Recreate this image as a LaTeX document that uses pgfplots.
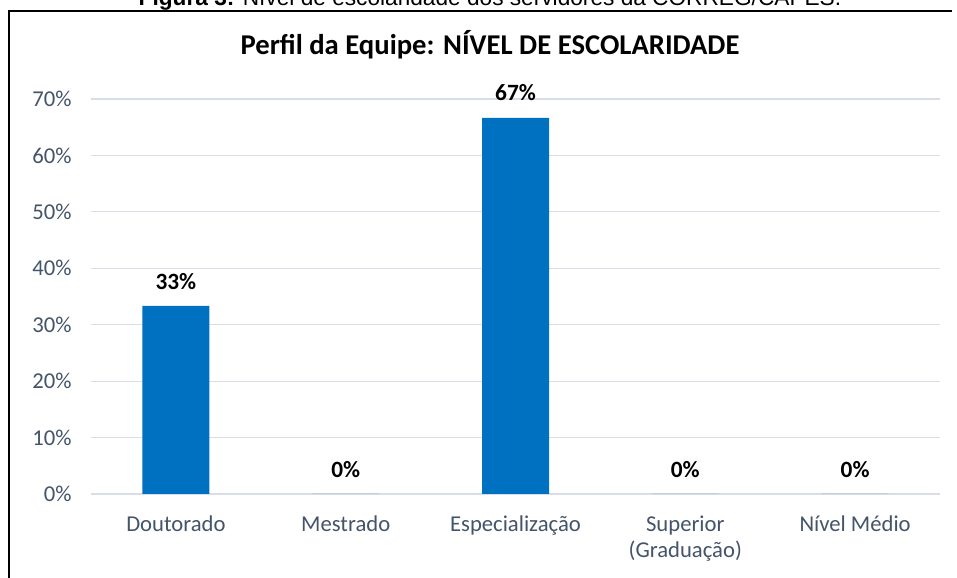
\documentclass[border=0pt]{standalone}
\usepackage{fontspec}
\setmainfont{Carlito}
\newfontfamily\arialfont{Liberation Sans}
\usepackage{pgfplots}
\pgfplotsset{compat=1.18}
\definecolor{barblue}{RGB}{0,112,192}
\definecolor{tickgray}{RGB}{68,84,106}
\definecolor{gridgray}{RGB}{217,222,230}
\begin{document}
\begin{tikzpicture}
\useasboundingbox (0pt,0pt) rectangle (717.75pt,433.5pt);
\clip (0pt,0pt) rectangle (717.75pt,433.5pt);
\fill[white] (0pt,0pt) rectangle (717.75pt,433.5pt);
\node[anchor=base, inner sep=0pt, font=\arialfont\fontsize{17}{20}\selectfont] at (367.5pt,429.4pt) {\textbf{Figura 3:} Nível de escolaridade dos servidores da CORREG/CAPES.};
\draw[line width=1.5pt] (6.75pt,-10pt) -- (6.75pt,425.6pt) -- (714pt,425.6pt);
\node[anchor=base, inner sep=0pt, font=\bfseries\fontsize{21.5}{25}\selectfont] at (367.5pt,392.25pt) {Perfil da Equipe: NÍVEL DE ESCOLARIDADE};
\begin{axis}[
  at={(68.25pt,63pt)}, anchor=south west, scale only axis,
  width=636.75pt, height=296.25pt,
  ybar, bar width=50.25pt,
  ymin=0, ymax=70, xmin=-0.5, xmax=4.5,
  xtick={0,1,2,3,4},
  xticklabels={Doutorado, Mestrado, Especialização, {Superior\\(Graduação)}, Nível Médio},
  ytick={0,10,...,70},
  yticklabel={\pgfmathprintnumber{\tick}\%},
  /pgf/number format/assume math mode=true,
  tick label style={font=\fontsize{17}{19.5}\selectfont, text=tickgray},
  x tick label style={align=center, yshift=-13pt},
  y tick label style={xshift=-11pt},
  major tick length=0pt,
  ymajorgrids, grid style={gridgray, line width=0.9pt},
  axis line style={draw=none},
  point meta=explicit symbolic,
  nodes near coords={\pgfplotspointmeta\%},
  nodes near coords style={font=\bfseries\fontsize{17.5}{20.5}\selectfont, text=black, yshift=9pt},
]
\addplot[fill=barblue, draw=none] coordinates {
  (0,33.33) [33]
  (1,0) [0]
  (2,66.67) [67]
  (3,0) [0]
  (4,0) [0]
};
\end{axis}
\end{tikzpicture}
\end{document}
